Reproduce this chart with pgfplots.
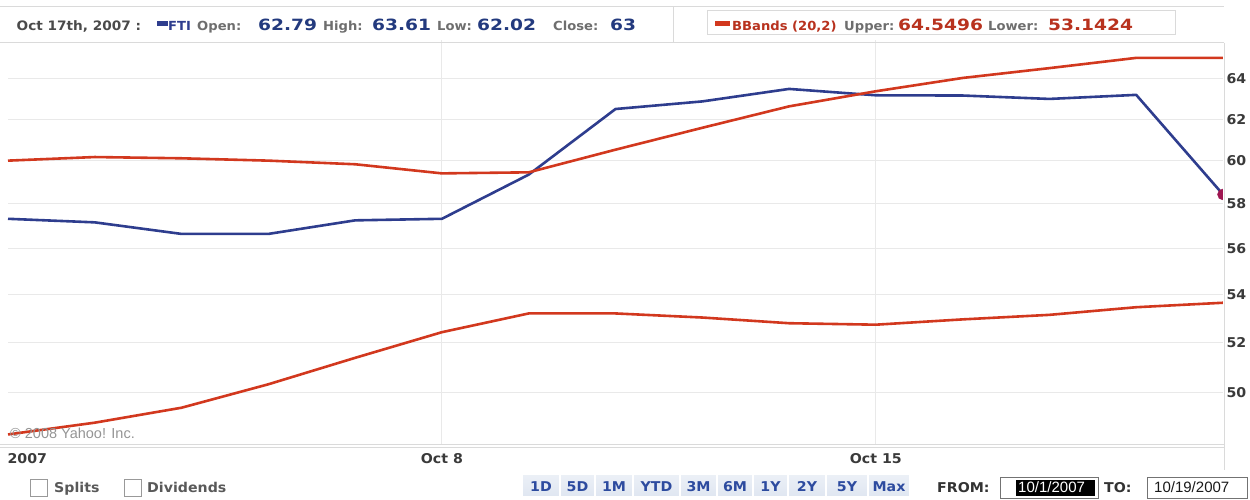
\documentclass[border=0pt]{standalone}
\usepackage{pgfplots}
\pgfplotsset{compat=1.18}
\usepackage{fontspec}
\setmainfont{DejaVu Sans}
\newfontfamily\lab{DejaVu Sans}[FakeStretch=1.05]
\newfontfamily\val{DejaVu Sans}[FakeStretch=1.2]
\newfontfamily\ar{Liberation Sans}
\definecolor{fblue}{HTML}{2E3D8E}
\definecolor{bred}{HTML}{D2381E}
\definecolor{hdrgray}{HTML}{4A4A4A}
\definecolor{labgray}{HTML}{6E6E6E}
\definecolor{valblue}{HTML}{233A7E}
\definecolor{valred}{HTML}{B8321E}
\definecolor{gridc}{HTML}{E9E9E9}
\definecolor{linec}{HTML}{DADADA}
\definecolor{btnbg}{HTML}{DFE6F1}
\definecolor{btntxt}{HTML}{2D4B9F}
\definecolor{mk}{HTML}{9E1550}
\definecolor{ticktxt}{HTML}{3A3A3A}
\begin{document}
\begin{tikzpicture}[x=1pt,y=1pt]
\path[use as bounding box] (0,0) rectangle (1250,499);
% header frame
\draw[linec, line width=1pt] (0,492) -- (1224,492);
\draw[linec, line width=1pt] (673,492) -- (673,456);
\draw[linec, line width=1pt, fill=white] (707,488.5) rectangle (1175,464.5);
\begin{axis}[
  at={(8pt,55pt)}, anchor=south west,
  width=1215pt, height=404pt, scale only axis,
  xmin=0, xmax=14, ymin=48, ymax=66,
  ymode=log,
  axis line style={draw=none},
  xtick={5,10}, xticklabels={Oct 8,Oct 15},
  ytick={50,52,54,56,58,60,62,64},
  yticklabels={\textbf{50},\textbf{52},\textbf{54},\textbf{56},\textbf{58},\textbf{60},\textbf{62},\textbf{64}},
  yticklabel pos=right,
  major tick length=0pt,
  grid=major,
  major grid style={gridc, line width=1pt},
  tick label style={font=\lab\bfseries\fontsize{13.5}{15}\selectfont, text=ticktxt},
  yticklabel style={font=\lab\bfseries\fontsize{13.5}{15}\selectfont, text=ticktxt},
  xticklabel style={anchor=base, yshift=-20pt},
  extra x ticks={0}, extra x tick labels={2007},
  extra x tick style={grid=none, xticklabel style={anchor=base west, xshift=-4pt}},
  clip marker paths=true,
]
\addplot[fblue, line width=2.6pt, line join=round] coordinates {
(0,57.32) (1,57.16) (2,56.64) (3,56.64) (4,57.25) (5,57.32) (6,59.35) (7,62.50)
(8,62.88) (9,63.50) (10,63.18) (11,63.17) (12,63.00) (13,63.20) (14,58.43)};
\addplot[bred, line width=2.6pt, line join=round] coordinates {
(0,60.01) (1,60.18) (2,60.12) (3,60.01) (4,59.84) (5,59.41) (6,59.46) (7,60.53)
(8,61.58) (9,62.63) (10,63.38) (11,64.05) (12,64.55) (13,65.07) (14,65.07)};
\addplot[bred, line width=2.6pt, line join=round] coordinates {
(0,48.36) (1,48.81) (2,49.39) (3,50.31) (4,51.37) (5,52.42) (6,53.20) (7,53.20)
(8,53.03) (9,52.79) (10,52.73) (11,52.95) (12,53.14) (13,53.46) (14,53.65)};
\addplot[only marks, mark=*, mark size=5.5pt, mark options={fill=mk, draw=mk}] coordinates {(14,58.43)};
\end{axis}
% frame lines around plot
\draw[linec, line width=1pt] (0,456) -- (1224,456);
\draw[linec, line width=1pt] (1224,456) -- (1224,29);
\draw[linec, line width=1pt] (0,55) -- (1224,55);
\draw[linec, line width=1pt] (0,52) -- (1224,52);
\node[anchor=west, inner sep=0pt, text=black!42, font=\ar\fontsize{14.5}{16}\selectfont] at (10,66) {\textcopyright\ 2008 Yahoo! Inc.};
% header text
\node[anchor=base west, inner sep=0pt, text=hdrgray, font=\lab\bfseries\fontsize{13}{15}\selectfont] at (16.5,468.5) {Oct 17th, 2007 :};
\fill[fblue] (157,473) rectangle (168,478);
\node[anchor=base west, inner sep=0pt, text=fblue, font=\lab\bfseries\fontsize{12.5}{15}\selectfont] at (168,468.5) {FTI};
\node[anchor=base west, inner sep=0pt, text=labgray, font=\lab\bfseries\fontsize{12.5}{15}\selectfont] at (197,468.5) {Open:};
\node[anchor=base west, inner sep=0pt, text=valblue, font=\val\bfseries\fontsize{15.5}{17}\selectfont] at (258,468.5) {62.79};
\node[anchor=base west, inner sep=0pt, text=labgray, font=\lab\bfseries\fontsize{12.5}{15}\selectfont] at (323,468.5) {High:};
\node[anchor=base west, inner sep=0pt, text=valblue, font=\val\bfseries\fontsize{15.5}{17}\selectfont] at (372,468.5) {63.61};
\node[anchor=base west, inner sep=0pt, text=labgray, font=\lab\bfseries\fontsize{12.5}{15}\selectfont] at (437,468.5) {Low:};
\node[anchor=base west, inner sep=0pt, text=valblue, font=\val\bfseries\fontsize{15.5}{17}\selectfont] at (477,468.5) {62.02};
\node[anchor=base west, inner sep=0pt, text=labgray, font=\lab\bfseries\fontsize{12.5}{15}\selectfont] at (553,468.5) {Close:};
\node[anchor=base west, inner sep=0pt, text=valblue, font=\val\bfseries\fontsize{15.5}{17}\selectfont] at (610,468.5) {63};
\fill[bred] (715,473) rectangle (730,478);
\node[anchor=base west, inner sep=0pt, text=valred, font=\lab\bfseries\fontsize{12.5}{15}\selectfont] at (732,468.5) {BBands (20,2)};
\node[anchor=base west, inner sep=0pt, text=labgray, font=\lab\bfseries\fontsize{12.5}{15}\selectfont] at (844,468.5) {Upper:};
\node[anchor=base west, inner sep=0pt, text=valred, font=\val\bfseries\fontsize{15.5}{17}\selectfont] at (898,468.5) {64.5496};
\node[anchor=base west, inner sep=0pt, text=labgray, font=\lab\bfseries\fontsize{12.5}{15}\selectfont] at (988,468.5) {Lower:};
\node[anchor=base west, inner sep=0pt, text=valred, font=\val\bfseries\fontsize{15.5}{17}\selectfont] at (1048,468.5) {53.1424};
% bottom controls
\draw[black!40, fill=white] (30,3) rectangle (47,20);
\node[anchor=base west, inner sep=0pt, text=black!65, font=\lab\bfseries\fontsize{13.5}{15}\selectfont] at (54,6.5) {Splits};
\draw[black!40, fill=white] (124,3) rectangle (141,20);
\node[anchor=base west, inner sep=0pt, text=black!65, font=\lab\bfseries\fontsize{13.5}{15}\selectfont] at (147,6.5) {Dividends};
\foreach \a/\b/\t in {522/560/1D,560/595/5D,595/633/1M,633/680/YTD,680/717/3M,717/753/6M,753/788/1Y,788/826/2Y,826/868/5Y,868/910/Max}{
  \draw[white, line width=1.5pt, top color=white!40!btnbg, bottom color=btnbg] (\a,2) rectangle (\b,25);
  \node[anchor=base, inner sep=0pt, text=btntxt, font=\lab\bfseries\fontsize{13.5}{15}\selectfont] at ({(\a+\b)/2},8) {\t};
}
\node[anchor=base west, inner sep=0pt, text=black!80, font=\lab\bfseries\fontsize{13.5}{15}\selectfont] at (937,7) {FROM:};
\draw[black!55] (1000,1) rectangle (1098,22);
\fill[black] (1016,3.5) rectangle (1095,19.5);
\node[anchor=base west, inner sep=0pt, text=white, font=\ar\fontsize{15}{17}\selectfont] at (1018,6.5) {10/1/2007};
\node[anchor=base west, inner sep=0pt, text=black!80, font=\lab\bfseries\fontsize{13.5}{15}\selectfont] at (1104,7) {TO:};
\draw[black!55] (1147,1) rectangle (1247,22);
\node[anchor=base west, inner sep=0pt, text=black!90, font=\ar\fontsize{15}{17}\selectfont] at (1154,6.5) {10/19/2007};
\end{tikzpicture}
\end{document}
